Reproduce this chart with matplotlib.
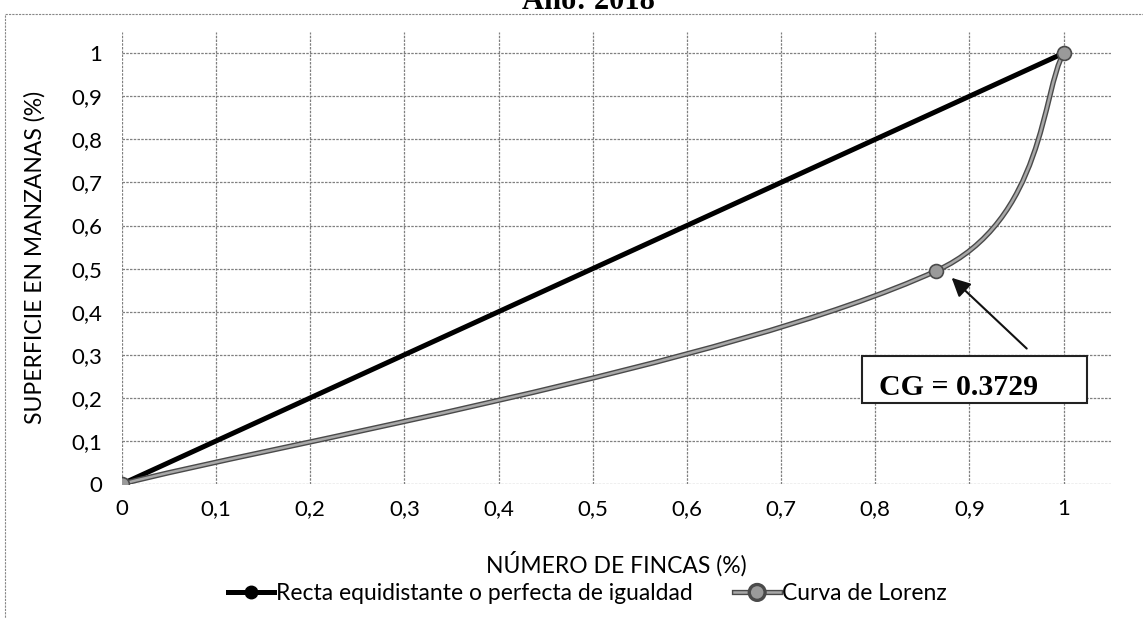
import numpy as np
import matplotlib
matplotlib.use("Agg")
import matplotlib.pyplot as plt
from matplotlib.path import Path
from matplotlib.patches import PathPatch, Rectangle
import matplotlib.patheffects as pe

# datos
fincas_igualdad = [0, 1]
superficie_igualdad = [0, 1]
fincas_lorenz = [0, 0.865, 1]
superficie_lorenz = [0, 0.495, 1]
ticks = [0, 0.1, 0.2, 0.3, 0.4, 0.5, 0.6, 0.7, 0.8, 0.9, 1]
tick_labels = ["0", "0,1", "0,2", "0,3", "0,4", "0,5", "0,6", "0,7", "0,8", "0,9", "1"]
cg_text = "CG = 0.3729"

plt.rcParams['font.family'] = ['Lato', 'DejaVu Sans']

fig = plt.figure(figsize=(11.43, 6.18), dpi=100)
ax = fig.add_axes([0.1067, 0.2168, 0.865, 0.732])
ax.set_xlim(0, 1.05)
ax.set_ylim(0, 1.05)

for s in ax.spines.values():
    s.set_visible(False)
ax.set_xticks(ticks)
ax.set_xticklabels(tick_labels)
ax.set_yticks(ticks)
ax.set_yticklabels(tick_labels)
ax.tick_params(length=0, labelsize=16, pad=14)
ax.tick_params(axis='x', pad=11)
ax.grid(True, color='#808080', linestyle=(0, (2, 1)), linewidth=0.9)
ax.set_axisbelow(True)

ax.set_xlabel("NÚMERO DE FINCAS (%)", fontsize=16.5)
ax.xaxis.set_label_coords(0.5, -0.148)
ax.set_ylabel("SUPERFICIE EN MANZANAS (%)", fontsize=16.5)
ax.yaxis.set_label_coords(-0.077, 0.5)

# recta de igualdad
ax.plot(fincas_igualdad, superficie_igualdad, color='black', lw=3.6,
        marker='o', ms=9, zorder=3,
        label="Recta equidistante o perfecta de igualdad")

# curva de Lorenz suavizada (bezier, tangentes escaladas por longitud de tramo)
pts = np.column_stack([fincas_lorenz, superficie_lorenz])
ext = np.vstack([pts[0], pts, pts[-1]])
seg = np.linalg.norm(np.diff(ext, axis=0), axis=1)
verts = [tuple(pts[0])]
codes = [Path.MOVETO]
for i in range(len(pts) - 1):
    p0, p1, p2, p3 = ext[i], ext[i + 1], ext[i + 2], ext[i + 3]
    la, lb, lc = seg[i], seg[i + 1], seg[i + 2]
    k1 = 2 * lb / (la + lb) if la > 0 else 1
    k2 = 2 * lb / (lb + lc) if lc > 0 else 1
    c1 = p1 + k1 * (p2 - p0) / 6
    c2 = p2 - k2 * (p3 - p1) / 6
    verts += [tuple(c1), tuple(c2), tuple(p2)]
    codes += [Path.CURVE4] * 3
curve = PathPatch(Path(verts, codes), fill=False, edgecolor='#a8a8a8', lw=1.8, zorder=4,
                  path_effects=[pe.Stroke(linewidth=3.8, foreground='#4a4a4a'), pe.Normal()])
ax.add_patch(curve)
ax.plot(fincas_lorenz, superficie_lorenz, linestyle='none', marker='o', ms=10,
        markerfacecolor='#9a9a9a', markeredgecolor='#4a4a4a', markeredgewidth=1.2, zorder=5)
ax.plot([], [], color='#a8a8a8', lw=1.8, marker='o', ms=10,
        markerfacecolor='#9a9a9a', markeredgecolor='#4a4a4a',
        path_effects=[pe.Stroke(linewidth=3.8, foreground='#4a4a4a'), pe.Normal()],
        label="Curva de Lorenz")

# cuadro del coeficiente
ax.add_patch(Rectangle((0.786, 0.188), 0.239, 0.11, facecolor='white', edgecolor='#222222',
                       lw=1.5, zorder=6))
ax.text(0.888, 0.225, cg_text, ha='center', va='center', fontsize=21.5, fontweight='bold',
        family='Liberation Serif', zorder=7)
ax.annotate("", xy=(0.879, 0.483), xytext=(0.963, 0.31),
            arrowprops=dict(arrowstyle='-|>', color='#111111', lw=1.5, mutation_scale=28),
            zorder=7)

ax.legend(loc='center', bbox_to_anchor=(0.471, -0.243), ncol=2, frameon=False,
          fontsize=16.5, handlelength=2.0, handletextpad=0.1, columnspacing=1.8)

fig.text(0.5144, 1 - 9 / 618, "Año: 2018", ha='center', va='baseline', fontsize=22,
         fontweight='bold', family='Liberation Serif')
fig.patches.append(Rectangle((5 / 1143, -0.1), 1.2, 1 - 14 / 618 + 0.1, transform=fig.transFigure,
                             fill=False, edgecolor='#888888', lw=0.8, linestyle=(0, (2, 1))))

fig.savefig("out.png", dpi=100)
